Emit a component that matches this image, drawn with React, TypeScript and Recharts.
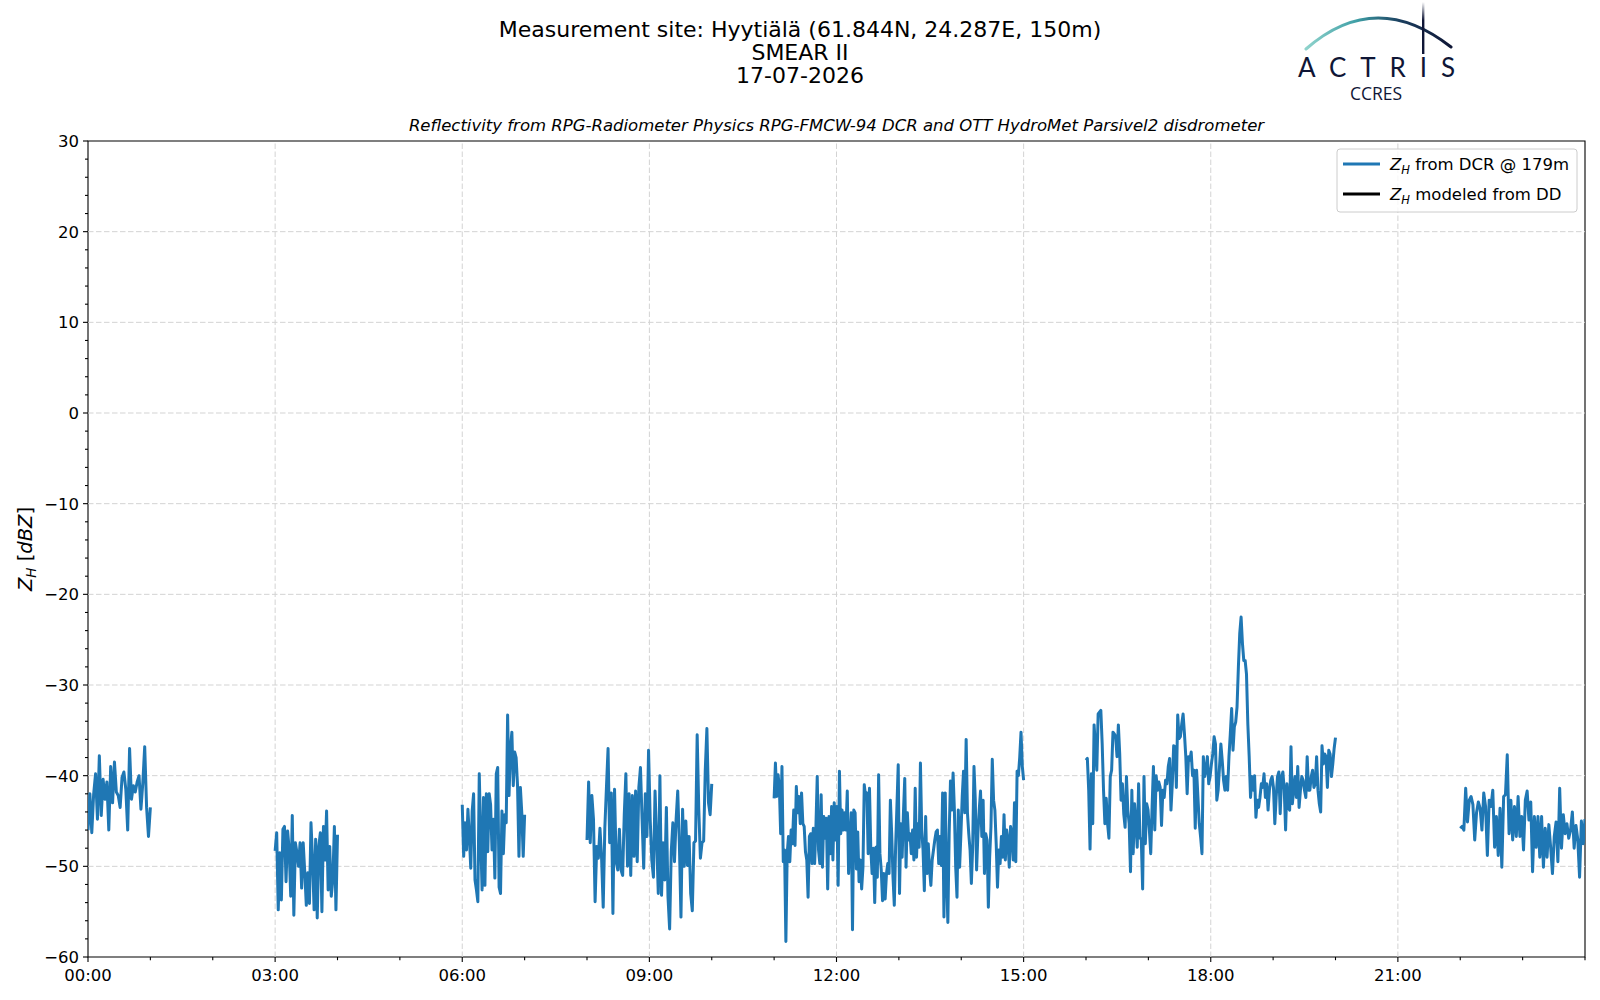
import { LineChart, Line, XAxis, YAxis, ReferenceLine, ReferenceArea } from "recharts"

const FONT = "'DejaVu Sans', 'Liberation Sans', sans-serif"
const BLUE = "#1f77b4"

// Z_H from DCR @ 179m (hours of day)
const dcr0000 = [-46, -42, -46.3, -42, -39.8, -44.8, -37.8, -44.4, -40.4, -42.6, -40.7, -46, -39, -43, -38.5, -41.8, -42.2, -43.5, -40.2, -39.6, -41.5, -46, -37, -42.6, -41.1, -41.8, -40.7, -40, -43.7, -40.8, -36.8, -43.5, -46.7, -43.5]
const dcr0300 = [-48.3, -46.3, -54.8, -48.5, -53.7, -45.9, -45.6, -51.7, -46.1, -48.1, -53.3, -44.4, -55.4, -47.4, -48.5, -50, -47.4, -52.4, -47.4, -50.6, -54.3, -50.7, -54.1, -45.2, -49.3, -54.8, -47, -55.7, -47.8, -46.3, -55, -45.6, -49.3, -43.9, -52.6, -47.8, -53.3, -51.5, -45.6, -54.8, -46.5]
const dcr0600 = [-43.2, -48.9, -45.2, -48.2, -43.7, -46.7, -50.2, -43.9, -42, -51.5, -52.6, -53.9, -39.8, -46.7, -52.6, -42.4, -52.1, -42, -48.4, -42, -43.2, -48.2, -44.8, -51.3, -39.8, -39.1, -52.3, -53, -43.9, -48.6, -44.3, -45.2, -33.3, -42.2, -37, -35.2, -41.1, -37.4, -38, -41.1, -48.9, -41.3, -44.1, -48.9, -44.3]
const dcr0800 = [-47.1, -40.7, -47.4, -42.2, -44.8, -53.9, -47.8, -49.1, -45.8, -49.1, -54.5, -45.8, -41.3, -37, -47.4, -41.9, -55.2, -41.5, -49.5, -50.4, -45.9, -50.4, -51, -44.3, -39.8, -50, -42, -51, -42.2, -48.9, -41.7, -49.5, -41.3, -39.1, -44.8, -50.2, -42, -46.7, -37.2, -44.8, -49.3, -51.2, -41.7, -47.1, -53, -40, -53.2, -47.4, -51.5, -43.5, -53.4, -56.9, -48.4, -45.2, -49.5, -44.8, -41.7, -47.4, -55.6, -43.7, -50, -45, -49.9, -46.7, -53, -54.9, -47.4, -47.2, -35.5, -43.7, -49.1, -47.4, -47.2, -39.4, -34.8, -43, -44.3, -40.9]
const dcr1100 = [
  -42.5, -38.6, -42.3, -39.9, -41.2, -46.4, -39, -49.5, -48.2, -58.3, -48.6, -46.7, -49.5, -46, -47.5, -43.8, -47.7, -41.2, -44.1, -42.3,
  -45.3, -41.9, -45.3, -45.6, -48.4, -49.3, -53.4, -46.7, -46.4, -49.7, -45.8, -49.7, -45.6, -40.1, -48.2, -49.7, -42.1, -50.1, -44.5, -46.9,
  -44.7, -52.5, -44.5, -48.6, -43.4, -49.3, -43, -47.1, -43.4, -52.1, -39.5, -46.4, -43.8, -46, -44.1, -46, -41.7, -50.8, -47.1, -44.1,
  -57, -43.8, -44.1, -50.3, -46.2, -51.7, -49.3, -52.5, -50.1, -41, -42.3, -41.9, -48.6, -41.4, -48, -50.8, -48, -54, -47.9, -51.2,
  -39.9, -48.6, -50.4, -53.8,
  -50.8, -53.6, -50.8, -49.7, -50.8, -42.7, -46.4, -51.2, -54.3, -47.9, -43.4, -38.8, -53, -45.3, -49, -44.1, -40.3, -50.1, -44.1, -47.1,
  -46.4, -48.6, -46, -49.3, -41.4, -49, -45.3, -47.9, -38.6, -46, -48.2, -52.7, -44.5, -50.8, -47.5, -50.4, -52.1, -49.3, -48.2, -47.1,
  -46.2, -46, -49.7, -46.7, -49.9, -41.9, -55.6, -41.9, -51, -56.2, -46.4, -40.6, -43.8, -39.7, -43.8, -50.1, -53.4, -43.8, -50.1, -46.4,
  -42.3, -39.5, -44.1, -36, -44.1, -46.4, -48.2, -51.9, -47.9, -39, -42.7, -50.4, -46.4, -43.8, -41.7, -46.7, -42.7, -50.8, -46.4, -47.1,
  -54.5, -49, -45.6, -38.2, -42.7, -43.8, -47.5, -52.3, -48.2, -49.7, -46.7, -49, -44.3, -49.3, -46, -47.1, -50.1, -45.6,
  -46.4, -49.3, -43, -49.5, -39.5, -40, -38, -35.2, -39, -40.5,
]
const dcr1600 = [
  -38.3, -38.1, -41.6, -48.1, -39.8, -45.3, -34.4, -36.8, -39.4, -33.2, -33, -32.8, -36.5, -41.6, -45.3, -42.5, -45.3, -46.9, -40.1, -39.4,
  -35.2, -35.4, -35.7, -37.9, -34.4, -37.6, -42.7, -40.9, -44.2, -45.7, -40.1, -43.8, -45.3, -50.6, -41.6, -48.6, -43.1, -45.3, -47.9, -40.9,
  -46.8, -47.1, -52.5, -40.1, -47.5, -43.1, -43.8, -46, -48.6, -43.5, -39, -46, -40, -41.6, -40.7, -41.3, -45.5, -41.6, -42.4, -40.5,
  -40.9, -39, -38.1, -43.8, -40.9, -36.7, -36.8, -41.3, -33.3, -35.9, -35.7, -34.3, -33.2, -35.4, -37.9, -42, -37.9, -38.3, -37.4, -40,
  -39.4, -45.8, -39.4, -42.4, -45.3, -46.8, -48.6, -37.9, -40.1, -39.4, -37.9, -40.9, -40.1, -38.7, -37.6, -35.7, -36.5, -42.7, -41.6, -39,
  -36.5, -38.3, -40.5, -41.6, -40.1, -41.6, -37.9, -35.4, -32.6, -37.2, -34.6, -34.1, -32.4, -28, -24.3, -22.5, -25.4, -27.3, -27.3, -28.8,
  -34.3, -37.9, -42.4, -40.1, -41.6, -40, -44.6, -42.7, -43.5, -42.4, -40.9, -41.3, -39.8, -42.4, -40.9, -43.8, -41.6, -40.5, -40.1, -41.3,
  -45.3, -42.4, -40.1, -39.6, -44.2, -40.1, -39.6, -41.6, -46, -40.9, -43.5, -43.8, -36.8, -43.1, -41.6, -40.1, -42.4, -39, -43.5, -41.6,
  -40.1, -40.5, -41.6, -42.4, -37.9, -41.6, -41.6, -40.1, -39.4, -41.3, -40.9, -37.9, -41.6, -43.1, -44, -36.7, -38.7, -37.6, -37.9, -41.3,
  -37.2, -37.6, -40.1, -38.7, -37, -35.8,
]
const dcr2200 = [
  -45.8, -45.6, -46, -41.4, -45.1, -42.7, -42.3, -43.2, -47.1, -44.1, -42.9, -43.6, -46, -41.9, -43.4, -48.8, -42.7, -43.4, -41.6, -47.9,
  -44.5, -48.8, -43.6, -50.1, -42.3, -42.1, -37.7, -46.4, -42.7, -47.1, -43.4, -46.7, -42.3, -46.7, -44.5, -48.2, -42.7, -41.7, -44.9, -42.9,
  -50.6, -44.5, -47.9, -44.5, -49, -44.5, -50.1, -45.8, -49, -45.4, -47.9, -50.8, -46.7, -45.1, -49.5, -41.4, -48, -44.3, -46.4, -45.3,
  -46.9, -46, -44, -48, -45.5, -47, -51.2, -45, -47.5, -44.8,
]
// Z_H modeled from DD: no values on this day
const ddModel: { t: number; v: number }[] = []

const segments = [
  { start: 0, end: 1, values: dcr0000 },
  { start: 3, end: 4, values: dcr0300 },
  { start: 6, end: 7, values: dcr0600 },
  { start: 8, end: 10, values: dcr0800 },
  { start: 11, end: 15, values: dcr1100 },
  { start: 16, end: 20, values: dcr1600 },
  { start: 22, end: 24, values: dcr2200 },
]

const hourTicks = Array.from({ length: 25 }, (_, i) => i)
const majorHours = [0, 3, 6, 9, 12, 15, 18, 21]
const hourLabels = ["00:00", "03:00", "06:00", "09:00", "12:00", "15:00", "18:00", "21:00"]
const dbzTicks = Array.from({ length: 46 }, (_, i) => -60 + i * 2)
const dbzMajor = [-60, -50, -40, -30, -20, -10, 0, 10, 20, 30]

type Row = { t: number; dcr: number | null; dd?: number | null }
const rows: Row[] = []
segments.forEach((s, k) => {
  if (k > 0) rows.push({ t: (segments[k - 1].end + s.start) / 2, dcr: null })
  const step = (s.end - s.start) / (s.values.length - 1)
  s.values.forEach((v, i) => rows.push({ t: s.start + i * step, dcr: v }))
})
ddModel.forEach((p) => rows.push({ t: p.t, dcr: null, dd: p.v }))

const fmtNum = (v: number) => (v < 0 ? "\u2212" + Math.abs(v) : String(v))

function HourTick(props: any) {
  const { x, y, payload } = props
  const h = payload.value as number
  const idx = majorHours.indexOf(h)
  return (
    <g>
      <line x1={x} x2={x} y1={y} y2={y + (idx >= 0 ? 5 : 3.2)} stroke="#000" strokeWidth={1.1} />
      {idx >= 0 && (
        <text x={x} y={y + 24} textAnchor="middle" fontSize={16.5} fontFamily={FONT} fill="#000">
          {hourLabels[idx]}
        </text>
      )}
    </g>
  )
}

function DbzTick(props: any) {
  const { x, y, payload } = props
  const v = payload.value as number
  const major = dbzMajor.includes(v)
  return (
    <g>
      <line x1={x - (major ? 5 : 3)} x2={x} y1={y} y2={y} stroke="#000" strokeWidth={1.1} />
      {major && (
        <text x={x - 9} y={y + 6} textAnchor="end" fontSize={16.5} fontFamily={FONT} fill="#000">
          {fmtNum(v)}
        </text>
      )}
    </g>
  )
}

const GRID = { stroke: "#d3d3d3", strokeDasharray: "5.5 2.5", strokeWidth: 1 }

export default function App() {
  return (
    <div style={{ position: "relative", width: 1600, height: 1000, background: "#fff" }}>
      <style>{"body{margin:0}"}</style>
      <LineChart width={1600} height={1000} data={rows} margin={{ top: 141, right: 15, bottom: 0, left: 0 }}>
        <XAxis
          dataKey="t"
          type="number"
          domain={[0, 24]}
          ticks={hourTicks}
          interval={0}
          height={43}
          tickSize={0}
          tickMargin={0}
          axisLine={false}
          tick={<HourTick />}
          allowDataOverflow
        />
        <YAxis
          type="number"
          domain={[-60, 30]}
          ticks={dbzTicks}
          interval={0}
          width={88}
          tickSize={0}
          tickMargin={0}
          axisLine={false}
          tick={<DbzTick />}
          allowDataOverflow
        />
        {majorHours.slice(1).map((h) => (
          <ReferenceLine key={"vx" + h} x={h} {...GRID} />
        ))}
        {dbzMajor.slice(1, -1).map((v) => (
          <ReferenceLine key={"hy" + v} y={v} {...GRID} />
        ))}
        <Line
          dataKey="dcr"
          type="linear"
          stroke={BLUE}
          strokeWidth={3}
          strokeLinejoin="round"
          dot={false}
          activeDot={false}
          connectNulls={false}
          isAnimationActive={false}
        />
        <Line
          dataKey="dd"
          type="linear"
          stroke="#000"
          strokeWidth={3}
          dot={false}
          activeDot={false}
          connectNulls={false}
          isAnimationActive={false}
        />
        <ReferenceArea x1={0} x2={24} y1={-60} y2={30} fill="none" stroke="#000" strokeWidth={1.1} />
      </LineChart>

      <svg width={1600} height={1000} style={{ position: "absolute", left: 0, top: 0, pointerEvents: "none" }}>
        <defs>
          <linearGradient id="arcGrad" x1="0" y1="0" x2="1" y2="0">
            <stop offset="0" stopColor="#8fd3cc" />
            <stop offset="0.35" stopColor="#3f9fa6" />
            <stop offset="0.65" stopColor="#1b3f5f" />
            <stop offset="1" stopColor="#0f1636" />
          </linearGradient>
          <linearGradient id="barGrad" x1="0" y1="0" x2="0" y2="1">
            <stop offset="0" stopColor="#0f1636" stopOpacity="0" />
            <stop offset="0.35" stopColor="#0f1636" stopOpacity="1" />
            <stop offset="1" stopColor="#0f1636" stopOpacity="1" />
          </linearGradient>
        </defs>

        <g fontFamily={FONT} fontSize={22} fill="#000" textAnchor="middle">
          <text x={800} y={36.5}>Measurement site: Hyytiälä (61.844N, 24.287E, 150m)</text>
          <text x={800} y={60}>SMEAR II</text>
          <text x={800} y={82.5}>17-07-2026</text>
        </g>

        <text x={836.5} y={131} textAnchor="middle" fontFamily={FONT} fontSize={16.5} fontStyle="italic" fill="#000">
          Reflectivity from RPG-Radiometer Physics RPG-FMCW-94 DCR and OTT HydroMet Parsivel2 disdrometer
        </text>

        <text
          x={31.5}
          y={549}
          transform="rotate(-90 31.5 549)"
          textAnchor="middle"
          fontFamily={FONT}
          fontSize={19.5}
          fill="#000"
        >
          <tspan fontStyle="italic">Z</tspan>
          <tspan fontStyle="italic" fontSize={13.5} dy={4}>H</tspan>
          <tspan dy={-4}> [</tspan>
          <tspan fontStyle="italic">dBZ</tspan>
          <tspan>]</tspan>
        </text>

        <rect x={1337} y={149} width={240} height={63} rx={3} fill="#fff" fillOpacity={0.8} stroke="#cccccc" strokeWidth={1} />
        <line x1={1343} x2={1380} y1={164} y2={164} stroke={BLUE} strokeWidth={3} />
        <line x1={1343} x2={1380} y1={194} y2={194} stroke="#000" strokeWidth={3} />
        <g fontFamily={FONT} fontSize={16.5} fill="#000">
          <text x={1390} y={170}>
            <tspan fontStyle="italic">Z</tspan>
            <tspan fontStyle="italic" fontSize={11.5} dy={3.5}>H</tspan>
            <tspan dy={-3.5}> from DCR @ 179m</tspan>
          </text>
          <text x={1390} y={200}>
            <tspan fontStyle="italic">Z</tspan>
            <tspan fontStyle="italic" fontSize={11.5} dy={3.5}>H</tspan>
            <tspan dy={-3.5}> modeled from DD</tspan>
          </text>
        </g>

        <path d="M1306,49 Q1375.5,-12 1451,47" fill="none" stroke="url(#arcGrad)" strokeWidth={3} strokeLinecap="round" />
        <rect x={1422} y={2} width={2.4} height={52} fill="url(#barGrad)" />
        <text x={1298} y={77} fontFamily="Lato, 'Noto Sans', sans-serif" fontSize={26} fill="#0f1636" textLength={157} lengthAdjust="spacing">
          ACTRIS
        </text>
        <text x={1376} y={99.5} textAnchor="middle" fontFamily="'Open Sans', 'Noto Sans', sans-serif" fontSize={17.5} fill="#0f1636">
          CCRES
        </text>
      </svg>
    </div>
  )
}
